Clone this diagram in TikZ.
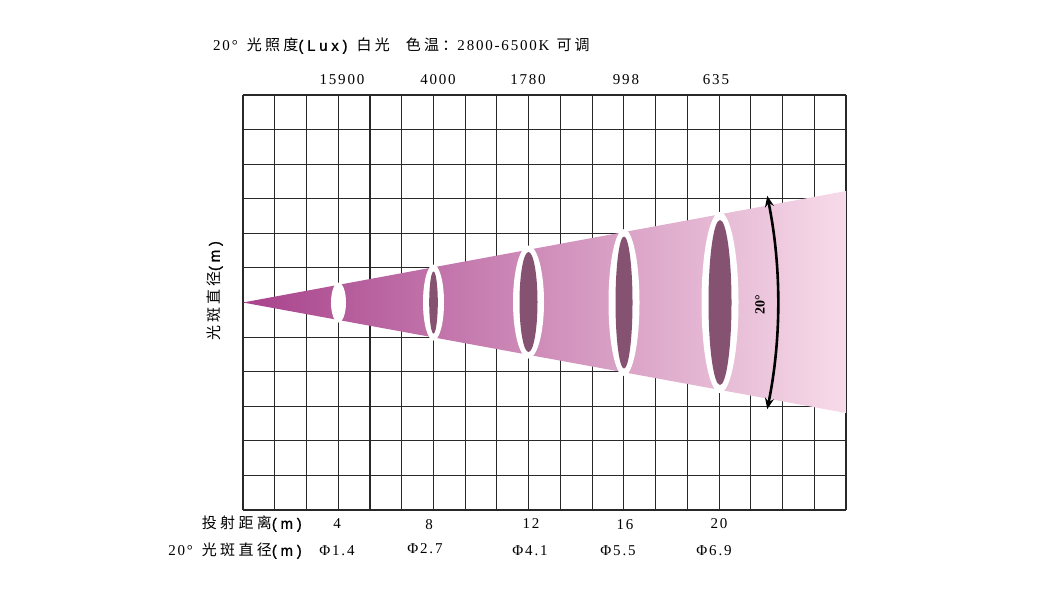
\documentclass[tikz,border=0pt]{standalone}
\usepackage{fontspec}
\setmainfont{Liberation Serif}
\newfontfamily\numfont{Liberation Serif}[LetterSpace=12]
\newfontfamily\cjk{Noto Sans CJK SC}[LetterSpace=22]
\newfontfamily\latsans{Liberation Sans}[LetterSpace=25,FakeBold=1]
\usetikzlibrary{calc,arrows.meta}

\definecolor{conel}{RGB}{168,66,140}
\definecolor{coner}{RGB}{247,219,233}
\definecolor{spot}{RGB}{133,82,114}
\definecolor{gridc}{RGB}{40,40,40}

\begin{document}
\begin{tikzpicture}[x=1pt,y=-1pt,
  txt/.style={inner sep=0pt,font=\fontsize{15}{17}\selectfont\numfont},
  gridline/.style={gridc,line width=1.1pt},
  ring/.style={fill=white},
  hole/.style={fill=spot},
  beam/.style={line width=2.6pt,{Stealth[length=11pt,width=9pt]}-{Stealth[length=11pt,width=9pt]}}
  ]

  \useasboundingbox (0,0) rectangle (1062,590);

  % grid 19 x 12
  \foreach \i in {0,...,19}
    \draw[gridline] ({243+\i*31.737},95) -- ({243+\i*31.737},510);
  \foreach \j in {0,...,12}
    \draw[gridline] (243,{95+\j*34.583}) -- (846,{95+\j*34.583});

  \coordinate (apex) at (243,302.5);
  \coordinate (coneup) at (846,191);
  \coordinate (conedn) at (846,413);
  \shade[left color=conel,right color=coner] (apex) -- (coneup) -- (conedn) -- cycle;

  % light spots
  \fill[ring] (338.5,302.5) ellipse [x radius=7.5pt,y radius=20pt];
  \fill[ring] (433.5,302.5) ellipse [x radius=10.5pt,y radius=38pt];
  \fill[hole] (433.5,302.5) ellipse [x radius=4.3pt,y radius=31pt];
  \fill[ring] (528.5,302) ellipse [x radius=15.5pt,y radius=56.5pt];
  \fill[hole] (528.5,302) ellipse [x radius=9pt,y radius=50pt];
  \fill[ring] (624,302.5) ellipse [x radius=15.5pt,y radius=73.5pt];
  \fill[hole] (624,302.5) ellipse [x radius=8.5pt,y radius=66pt];
  \fill[ring] (720,302.5) ellipse [x radius=18.5pt,y radius=90.5pt];
  \fill[hole] (720,302.5) ellipse [x radius=11.5pt,y radius=82.5pt];

  \coordinate (arctop) at ($(apex)+(11.5:535pt)$);
  \draw[beam] (arctop) arc[start angle=11.5,end angle=-11.5,radius=535pt];
  \node[txt,rotate=90,font=\fontsize{14}{16}\selectfont\bfseries] (angle) at (760,305) {20°};

  \node[txt,anchor=west] (title) at (213,46)
    {20°\hspace{9pt}{\cjk 光照度}{\latsans (Lux)}\hspace{9pt}{\cjk 白光}\hspace{16pt}{\cjk 色温：}2800-6500K\hspace{7pt}{\cjk 可\hspace{3pt}调}};

  \node[txt] (lux4) at (342,80) {15900};
  \node[txt] (lux8) at (438,80) {4000};
  \node[txt] (lux12) at (528,80) {1780};
  \node[txt] (lux16) at (626,80) {998};
  \node[txt] (lux20) at (716,80) {635};

  \node[txt,rotate=90] (yaxis) at (215,291) {{\cjk 光斑直径}{\latsans (m)}};

  \node[txt,anchor=east] (distlbl) at (302,524) {{\cjk 投射距离}{\latsans (m)}};
  \node[txt] (dist4) at (337,524) {4};
  \node[txt] (dist8) at (429,525) {8};
  \node[txt] (dist12) at (531,524) {12};
  \node[txt] (dist16) at (625,525) {16};
  \node[txt] (dist20) at (719,524) {20};

  \node[txt,anchor=east] (dialbl) at (302,551) {20°\hspace{9pt}{\cjk 光斑直径}{\latsans (m)}};
  \node[txt] (dia4) at (337,551) {Φ1.4};
  \node[txt] (dia8) at (425,549) {Φ2.7};
  \node[txt] (dia12) at (530,551) {Φ4.1};
  \node[txt] (dia16) at (618,551) {Φ5.5};
  \node[txt] (dia20) at (714,551) {Φ6.9};

\end{tikzpicture}
\end{document}
